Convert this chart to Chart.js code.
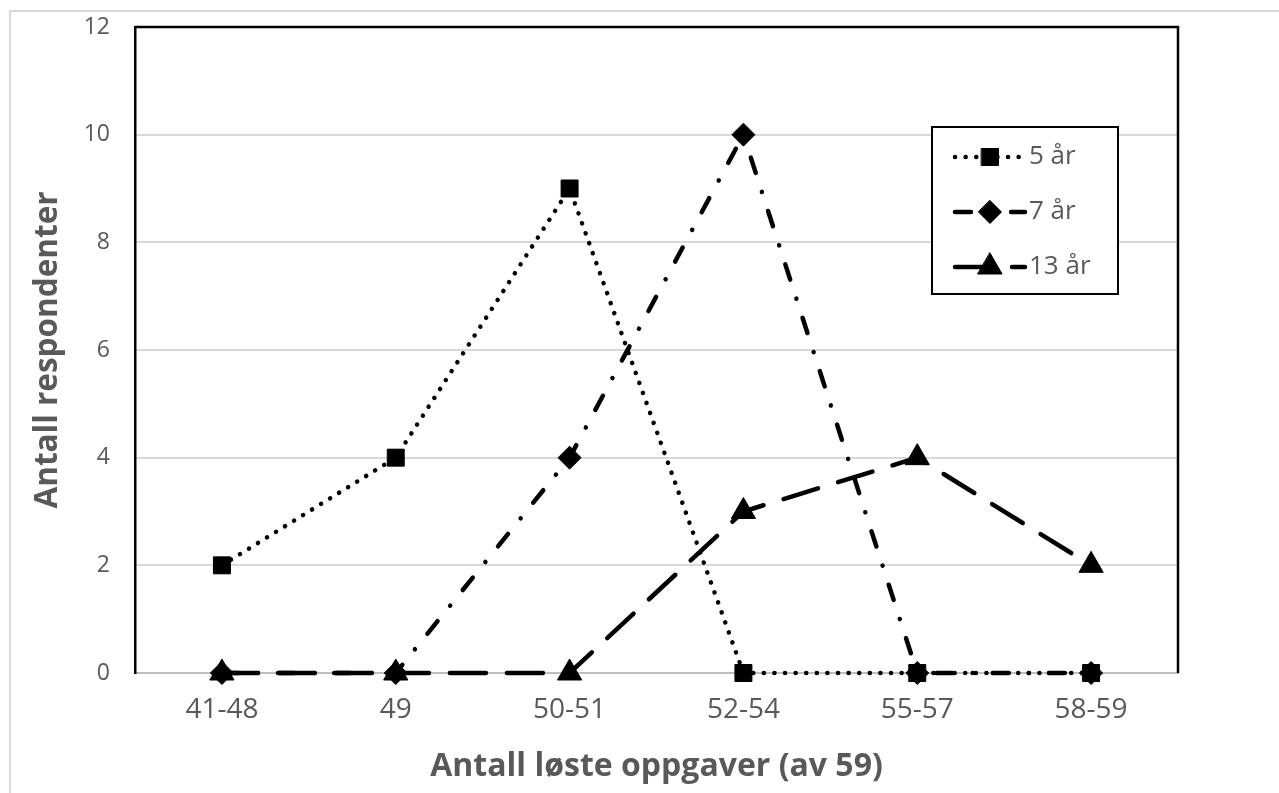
<!DOCTYPE html>
<html lang="no">
<head>
  <meta charset="UTF-8">
  <title>Antall løste oppgaver</title>
  <script src="https://cdn.jsdelivr.net/npm/chart.js"></script>
  <style>
    html, body { margin: 0; padding: 0; background: #fff; overflow: hidden; }
    #frame { position: absolute; left: 9px; top: 10px; width: 1400px; height: 900px; border: 2px solid #d9d9d9; box-sizing: border-box; }
    #chart { position: absolute; left: 0; top: 0; }
  </style>
</head>
<body>
  <div id="frame"></div>
  <canvas id="chart" width="1279" height="793"></canvas>

  <script>
    const categories = ['41-48', '49', '50-51', '52-54', '55-57', '58-59'];
    const fiveYears = [2, 4, 9, 0, 0, 0];
    const sevenYears = [0, 0, 4, 10, 0, 0];
    const thirteenYears = [0, 0, 0, 3, 4, 2];
    const seriesLabels = ['5 år', '7 år', '13 år'];
    const yMax = 12;
    const yStep = 2;

    const grey = '#595959';
    const font = '"Open Sans", Lato, sans-serif';

    function drawMarker(ctx, style, x, y, r) {
      ctx.beginPath();
      if (style === 'rect') {
        const s = r * Math.SQRT1_2;
        ctx.rect(x - s, y - s, 2 * s, 2 * s);
      } else if (style === 'rectRot') {
        ctx.moveTo(x, y - r);
        ctx.lineTo(x + r, y);
        ctx.lineTo(x, y + r);
        ctx.lineTo(x - r, y);
      } else {
        for (let i = 0; i < 3; i++) {
          const a = -Math.PI / 2 + i * 2 * Math.PI / 3;
          ctx[i ? 'lineTo' : 'moveTo'](x + Math.cos(a) * r, y + Math.sin(a) * r);
        }
      }
      ctx.closePath();
      ctx.fill();
      ctx.stroke();
    }

    // black frame on top and right of the plot area
    const plotFrame = {
      id: 'plotFrame',
      beforeDatasetsDraw(chart) {
        const { ctx, chartArea: a } = chart;
        ctx.save();
        ctx.strokeStyle = '#000';
        ctx.lineWidth = 2.5;
        ctx.beginPath();
        ctx.moveTo(a.left, a.top);
        ctx.lineTo(a.right, a.top);
        ctx.lineTo(a.right, a.bottom);
        ctx.stroke();
        ctx.restore();
      }
    };

    // boxed legend inside the plot area
    const boxLegend = {
      id: 'boxLegend',
      afterDraw(chart) {
        const { ctx, chartArea: a } = chart;
        const bx = a.right - 246, by = a.top + 100, bw = 186, bh = 167;
        ctx.save();
        ctx.fillStyle = '#fff';
        ctx.fillRect(bx, by, bw, bh);
        ctx.strokeStyle = '#000';
        ctx.lineWidth = 2;
        ctx.strokeRect(bx, by, bw, bh);
        chart.data.datasets.forEach((ds, i) => {
          const y = by + 30 + i * 55;
          ctx.save();
          ctx.strokeStyle = ds.borderColor;
          ctx.lineWidth = ds.borderWidth;
          ctx.lineCap = 'round';
          ctx.setLineDash(ds.borderDash);
          ctx.beginPath();
          ctx.moveTo(bx + 23, y);
          ctx.lineTo(bx + 93, y);
          ctx.stroke();
          ctx.setLineDash([]);
          ctx.fillStyle = ds.pointBackgroundColor;
          ctx.lineWidth = 1;
          drawMarker(ctx, ds.pointStyle, bx + 58, y, ds.pointRadius);
          ctx.restore();
          ctx.fillStyle = grey;
          ctx.font = '26px ' + font;
          ctx.textBaseline = 'middle';
          ctx.fillText(ds.label, bx + 97, y);
        });
        ctx.restore();
      }
    };

    function series(label, data, dash, pointStyle, radius, order) {
      return {
        label, data, order,
        clip: false,
        borderColor: '#000',
        borderWidth: 4.5,
        borderDash: dash,
        borderCapStyle: 'round',
        pointStyle,
        pointRadius: radius,
        pointHoverRadius: radius,
        pointBackgroundColor: '#000',
        pointBorderColor: '#000',
        pointBorderWidth: 1,
        fill: false,
        tension: 0
      };
    }

    new Chart(document.getElementById('chart'), {
      type: 'line',
      data: {
        labels: categories,
        datasets: [
          series(seriesLabels[0], fiveYears, [0.1, 10.5], 'rect', 12, 1),
          series(seriesLabels[1], sevenYears, [16, 20, 0.1, 20], 'rectRot', 11.5, 2),
          series(seriesLabels[2], thirteenYears, [36, 21], 'triangle', 14, 0)
        ]
      },
      options: {
        responsive: false,
        animation: false,
        layout: { padding: { top: 27, right: 101, left: 0, bottom: 0 } },
        plugins: {
          legend: { display: false },
          tooltip: { enabled: false }
        },
        scales: {
          x: {
            offset: true,
            afterFit(scale) { scale.height = 120; },
            grid: { display: false, drawTicks: false },
            border: { color: '#bfbfbf', width: 2 },
            ticks: { color: grey, padding: 20, font: { family: font, size: 28 } },
            title: {
              display: true,
              text: 'Antall løste oppgaver (av 59)',
              color: grey,
              font: { family: font, size: 32, weight: 'bold' },
              padding: { top: 0, bottom: 7 }
            }
          },
          y: {
            min: 0,
            max: yMax,
            afterFit(scale) {
              scale.width = 135;
              scale.paddingTop = 0;
              scale.paddingBottom = 0;
            },
            grid: {
              drawTicks: false,
              lineWidth: 2,
              color: ctx => ctx.tick.value === 0 ? '#bfbfbf' : '#d9d9d9'
            },
            border: { color: '#000', width: 2.5 },
            ticks: { stepSize: yStep, color: grey, padding: 25, font: { family: font, size: 23 } },
            title: {
              display: true,
              text: 'Antall respondenter',
              color: grey,
              font: { family: font, size: 31.5, weight: 'bold' },
              padding: { top: 29, bottom: 0 }
            }
          }
        }
      },
      plugins: [plotFrame, boxLegend]
    });
  </script>
</body>
</html>
